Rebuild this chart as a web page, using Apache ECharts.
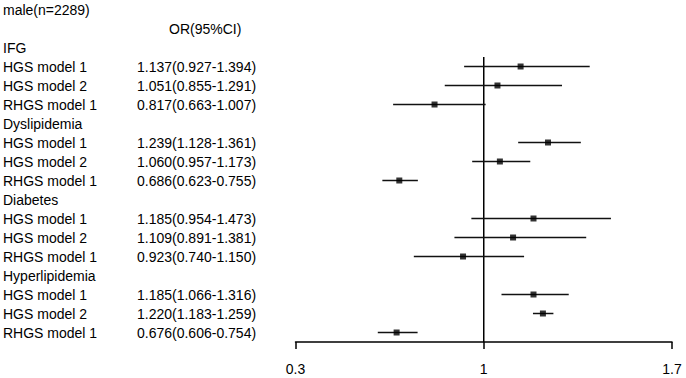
<!DOCTYPE html>
<html>
<head>
<meta charset="utf-8">
<script src="https://cdn.jsdelivr.net/npm/echarts@6/dist/echarts.min.js"></script>
<style>
  html, body { margin: 0; padding: 0; background: #fff; }
  #chart { width: 686px; height: 378px; }
</style>
</head>
<body>
<div id="chart"></div>
<script>
  // row layout of the forest plot, top to bottom
  let rowNames = ['male(n=2289)', '', 'IFG',
    'HGS model 1', 'HGS model 2', 'RHGS model 1', 'Dyslipidemia',
    'HGS model 1', 'HGS model 2', 'RHGS model 1', 'Diabetes',
    'HGS model 1', 'HGS model 2', 'RHGS model 1', 'Hyperlipidemia',
    'HGS model 1', 'HGS model 2', 'RHGS model 1']
  let headerText = 'OR(95%CI)'

  // rows that carry an estimate
  let estRows = [3, 4, 5, 7, 8, 9, 11, 12, 13, 15, 16, 17]
  let orValue = [1.137, 1.051, 0.817, 1.239, 1.060, 0.686, 1.185, 1.109, 0.923, 1.185, 1.220, 0.676]
  let ciLow = [0.927, 0.855, 0.663, 1.128, 0.957, 0.623, 0.954, 0.891, 0.740, 1.066, 1.183, 0.606]
  let ciHigh = [1.394, 1.291, 1.007, 1.361, 1.173, 0.755, 1.473, 1.381, 1.150, 1.316, 1.259, 0.754]

  let xTicks = [0.3, 1, 1.7]
  let refValue = 1

  let orText = {}
  estRows.forEach(function(r, i) {
    orText[r] = orValue[i].toFixed(3) + '(' + ciLow[i].toFixed(3) + '-' + ciHigh[i].toFixed(3) + ')'
  })

  let font = 'Liberation Sans, Arial, sans-serif'
  let chart = echarts.init(document.getElementById('chart'), null, { renderer: 'svg' })

  let options = {
    animation: false,
    backgroundColor: '#fff',
    grid: {
      left: 295,
      right: 14,
      top: -3.3,
      bottom: 36
    },
    xAxis: {
      type: 'value',
      min: 0.3,
      max: 1.7,
      splitLine: { show: false },
      axisLine: { show: true, onZero: false, lineStyle: { color: '#000', width: 1.5 } },
      axisTick: {
        show: true,
        length: 7,
        customValues: xTicks,
        lineStyle: { color: '#000', width: 1.5 }
      },
      axisLabel: {
        customValues: xTicks,
        margin: 20,
        color: '#000',
        fontSize: 14,
        fontFamily: font
      }
    },
    yAxis: [{
        type: 'category',
        inverse: true,
        data: rowNames,
        axisLine: { show: false },
        axisTick: { show: false },
        splitLine: { show: false },
        axisLabel: {
          interval: 0,
          align: 'left',
          margin: 292.5,
          color: '#000',
          fontSize: 14,
          fontFamily: font,
          formatter: function(val, i) {
            if (i === 1) return '{h|' + headerText + '}'
            if (orText[i]) return '{n|' + val + '}{v|' + orText[i] + '}'
            return '{n|' + val + '}'
          },
          rich: {
            n: { width: 134, fontSize: 14, fontFamily: font, color: '#000' },
            v: { fontSize: 14, fontFamily: font, color: '#000' },
            h: { fontSize: 14, fontFamily: font, color: '#000', padding: [0, 0, 0, 166] }
          }
        }
      },
      {
        // hidden value axis matching the category bands, used for the reference line
        type: 'value',
        inverse: true,
        min: 0,
        max: rowNames.length,
        show: false
      }
    ],
    series: [{
        type: 'custom',
        yAxisIndex: 0,
        renderItem: function(params, api) {
          let p1 = api.coord([api.value(0), api.value(2)])
          let p2 = api.coord([api.value(1), api.value(2)])
          return {
            type: 'line',
            shape: { x1: p1[0], y1: p1[1], x2: p2[0], y2: p2[1] },
            style: { stroke: '#111', lineWidth: 1.5 }
          }
        },
        encode: { x: [0, 1], y: 2 },
        data: estRows.map(function(r, i) { return [ciLow[i], ciHigh[i], r] }),
        z: 2
      },
      {
        type: 'scatter',
        yAxisIndex: 0,
        symbol: 'rect',
        symbolSize: 6,
        itemStyle: { color: '#000' },
        data: estRows.map(function(r, i) { return [orValue[i], r] }),
        z: 3
      },
      {
        type: 'line',
        yAxisIndex: 1,
        symbol: 'none',
        lineStyle: { color: '#000', width: 1.5 },
        data: [[refValue, 3], [refValue, rowNames.length]],
        z: 1
      }
    ]
  }

  chart.setOption(options, true)
</script>
</body>
</html>
